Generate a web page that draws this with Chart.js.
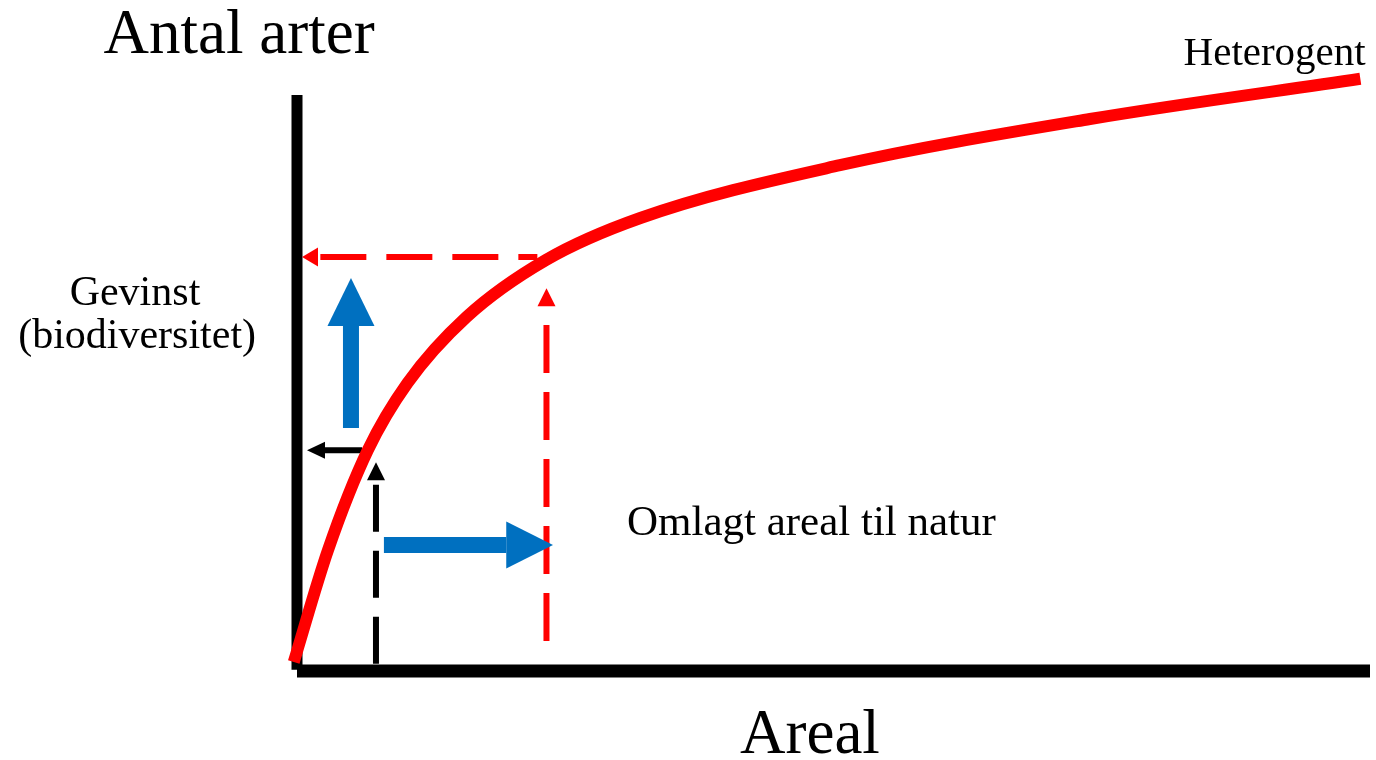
<!DOCTYPE html>
<html lang="da">
<head>
	<meta charset="utf-8">
	<title>Antal arter - Areal</title>
	<script src="https://cdn.jsdelivr.net/npm/chart.js"></script>
	<style>
		html, body { margin: 0; padding: 0; background: #ffffff; }
		#chart { display: block; }
	</style>
</head>
<body>
	<canvas id="chart" width="1376" height="760"></canvas>

<script>
	// both axes run 0..100 (no ticks shown)
	// red species-area curve
	const curveX = [-0.3, 2.9, 6.6, 10.3, 15.8, 23.2, 32.0, 50.6, 73.9, 99.1];
	const curveY = [1.5, 20.2, 36.8, 48.0, 59.0, 68.5, 75.5, 84.3, 92.0, 98.7];

	// axis lines
	const axisXLine = { x: [0, 100], y: [0, 0] };
	const axisYLine = { x: [0, 0], y: [0.2, 96] };

	// arrows: start, head base, tip
	const redGainX = [22.4, 1.96, 0.47];   const redGainY = [69, 69, 69];
	const redAreaX = [23.25, 23.25, 23.25]; const redAreaY = [5.0, 60.8, 63.8];
	const blackAreaX = [7.36, 7.36, 7.36];  const blackAreaY = [1.2, 31.8, 34.8];
	const blackGainX = [6.06, 2.61, 0.93];  const blackGainY = [36.8, 36.8, 36.8];
	const blueUpX = [5.03, 5.03, 5.03];     const blueUpY = [40.5, 57.5, 65.5];
	const blueRightX = [8.1, 19.5, 23.86];  const blueRightY = [21, 21, 21];

	// text labels (x, y in axis units)
	const labelText = ['Antal arter', 'Areal', 'Heterogent', 'Gevinst', '(biodiversitet)', 'Omlagt areal til natur'];
	const labelX = [-5.4, 47.8, 99.6, -15.1, -14.9, 30.75];
	const labelY = [103, -13.7, 101, 61.0, 53.8, 22.7];

	const RED = '#ff0000';
	const BLUE = '#0070c0';
	const BLACK = '#000000';
	const SERIF = '"Liberation Serif", "Times New Roman", serif';

	function pts(xs, ys) {
		return xs.map((x, i) => ({ x: x, y: ys[i] }));
	}

	// last segment (head base -> tip) is hidden, the plugin fills a triangle there
	function arrow(xs, ys, color, width, headWidth, dash, dashOffset) {
		return {
			data: pts(xs, ys),
			borderColor: color,
			borderWidth: width,
			borderDash: dash || [],
			borderDashOffset: dashOffset || 0,
			tension: 0,
			headWidth: headWidth,
			segment: {
				borderColor: ctx => ctx.p1DataIndex === xs.length - 1 ? 'transparent' : undefined
			}
		};
	}

	const arrowHeads = {
		id: 'arrowHeads',
		afterDatasetsDraw(chart) {
			const ctx = chart.ctx;
			chart.data.datasets.forEach((ds, i) => {
				if (!ds.headWidth) return;
				const p = chart.getDatasetMeta(i).data;
				const tip = p[p.length - 1], base = p[p.length - 2];
				const dx = tip.x - base.x, dy = tip.y - base.y;
				const len = Math.hypot(dx, dy);
				const nx = -dy / len * ds.headWidth / 2, ny = dx / len * ds.headWidth / 2;
				ctx.save();
				ctx.fillStyle = ds.borderColor;
				ctx.beginPath();
				ctx.moveTo(tip.x, tip.y);
				ctx.lineTo(base.x + nx, base.y + ny);
				ctx.lineTo(base.x - nx, base.y - ny);
				ctx.closePath();
				ctx.fill();
				ctx.restore();
			});
		}
	};

	const textLabels = {
		id: 'textLabels',
		afterDraw(chart) {
			const ctx = chart.ctx;
			const sx = chart.scales.x, sy = chart.scales.y;
			const fonts = ['63px', '63px', '41px', '42px', '42px', '43px'];
			const aligns = ['center', 'center', 'right', 'center', 'center', 'left'];
			ctx.save();
			ctx.fillStyle = BLACK;
			ctx.textBaseline = 'alphabetic';
			labelText.forEach((t, i) => {
				ctx.font = fonts[i] + ' ' + SERIF;
				ctx.textAlign = aligns[i];
				ctx.fillText(t, sx.getPixelForValue(labelX[i]), sy.getPixelForValue(labelY[i]));
			});
			ctx.restore();
		}
	};

	const config = {
		type: 'line',
		data: {
			datasets: [
				{
					data: pts(curveX, curveY),
					borderColor: RED,
					borderWidth: 12,
					cubicInterpolationMode: 'monotone'
				},
				arrow(redGainX, redGainY, RED, 6, 19, [46, 20], 27),
				arrow(redAreaX, redAreaY, RED, 6, 18, [48, 19]),
				arrow(blackAreaX, blackAreaY, BLACK, 6, 18, [47, 19]),
				arrow(blackGainX, blackGainY, BLACK, 6, 17),
				arrow(blueUpX, blueUpY, BLUE, 16, 47),
				arrow(blueRightX, blueRightY, BLUE, 16, 47),
				{ data: pts(axisXLine.x, axisXLine.y), borderColor: BLACK, borderWidth: 13 },
				{ data: pts(axisYLine.x, axisYLine.y), borderColor: BLACK, borderWidth: 11 }
			]
		},
		options: {
			responsive: false,
			devicePixelRatio: 1,
			animation: false,
			events: [],
			layout: { padding: { left: 297, right: 6, top: 71, bottom: 89 } },
			elements: { point: { radius: 0, hoverRadius: 0 } },
			datasets: { line: { clip: false, fill: false } },
			scales: {
				x: { type: 'linear', min: 0, max: 100, display: false },
				y: { type: 'linear', min: 0, max: 100, display: false }
			},
			plugins: {
				legend: { display: false },
				tooltip: { enabled: false },
				title: { display: false }
			}
		},
		plugins: [arrowHeads, textLabels]
	};

	new Chart(document.getElementById('chart'), config);
</script>
</body>
</html>
